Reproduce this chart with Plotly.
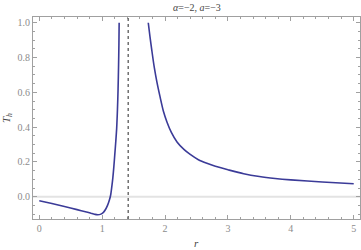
import plotly.graph_objects as go

# ---- data ----
r_left = [0.0, 0.2, 0.4, 0.6, 0.75, 0.82, 0.88, 0.93, 0.98, 1.02, 1.055, 1.085, 1.115, 1.135, 1.153, 1.17,
          1.185, 1.2, 1.215, 1.23, 1.243, 1.253, 1.261, 1.266, 1.27]
T_left = [-0.023, -0.039, -0.056, -0.074, -0.088, -0.095, -0.101, -0.104, -0.1, -0.09, -0.072, -0.05, -0.019, 0.01, 0.057, 0.11,
          0.17, 0.24, 0.31, 0.39, 0.5, 0.62, 0.76, 0.87, 1.0]

r_right = [1.733, 1.76, 1.79, 1.83, 1.87, 1.92, 1.975, 2.03, 2.1, 2.19, 2.3, 2.4, 2.53, 2.665, 2.8,
           3.0, 3.25, 3.5, 3.75, 4.0, 4.5, 5.0]
T_right = [1.0, 0.92, 0.84, 0.74, 0.66, 0.575, 0.49, 0.43, 0.37, 0.315, 0.272, 0.243, 0.213, 0.192, 0.175,
           0.155, 0.132, 0.116, 0.105, 0.097, 0.085, 0.075]

asymptote_r = 1.414
title_text = "<i>α</i>=−2, <i>a</i>=−3"
x_ticks = [0, 1, 2, 3, 4, 5]
y_ticks = [0.0, 0.2, 0.4, 0.6, 0.8, 1.0]
y_tick_labels = ["0.0", "0.2", "0.4", "0.6", "0.8", "1.0"]

line_color = "#3b3b98"
frame_color = "#a0a0a0"
serif = "Liberation Serif, DejaVu Serif, serif"
tick_font = dict(family=serif, size=10, color="#8c8c8c")

fig = go.Figure()
for rx, ty in ((r_left, T_left), (r_right, T_right)):
    fig.add_trace(go.Scatter(x=rx, y=ty, mode="lines",
                             line=dict(color=line_color, width=1.6, shape="spline", smoothing=0.8),
                             showlegend=False, hoverinfo="skip"))

# zero line
fig.add_hline(y=0, line=dict(color="#e3e3e3", width=2), layer="below")
# dotted vertical line
fig.add_vline(x=asymptote_r, line=dict(color="#666666", width=1.4, dash="dot"))

axis_common = dict(
    showgrid=False, zeroline=False, showline=True, linecolor=frame_color, linewidth=1,
    mirror="ticks", ticks="inside", ticklen=4, tickcolor=frame_color, tickwidth=1,
    tickfont=tick_font, automargin=False,
)

fig.update_xaxes(range=[-0.1, 5.1], tickvals=x_ticks, ticktext=[str(v) for v in x_ticks],
                 minor=dict(dtick=0.2, ticks="inside", ticklen=2, tickcolor=frame_color),
                 **axis_common)
fig.update_yaxes(range=[-0.128, 1.033], tickvals=y_ticks, ticktext=y_tick_labels,
                 minor=dict(dtick=0.05, ticks="inside", ticklen=2, tickcolor=frame_color),
                 **axis_common)

fig.update_layout(
    width=361, height=250,
    margin=dict(l=33, r=1, t=17, b=31, autoexpand=False),
    paper_bgcolor="white", plot_bgcolor="white",
    annotations=[
        dict(text=title_text, x=0.5, y=1, xref="paper", yref="paper",
             xanchor="center", yanchor="bottom", yshift=2, showarrow=False,
             font=dict(family=serif, size=10, color="#444444")),
        dict(text="<i>r</i>", x=0.5, y=0, xref="paper", yref="paper",
             xanchor="center", yanchor="top", yshift=-16, showarrow=False,
             font=dict(family=serif, size=11, color="#444444")),
        dict(text="<i>T<sub>h</sub></i>", x=0, y=0.5, xref="paper", yref="paper",
             xanchor="center", yanchor="middle", xshift=-26, textangle=-90, showarrow=False,
             font=dict(family=serif, size=11, color="#444444")),
    ],
)

fig.write_html("out.html", config={"displayModeBar": False},
               post_script="document.body.style.margin='0';document.body.style.overflow='hidden';")
